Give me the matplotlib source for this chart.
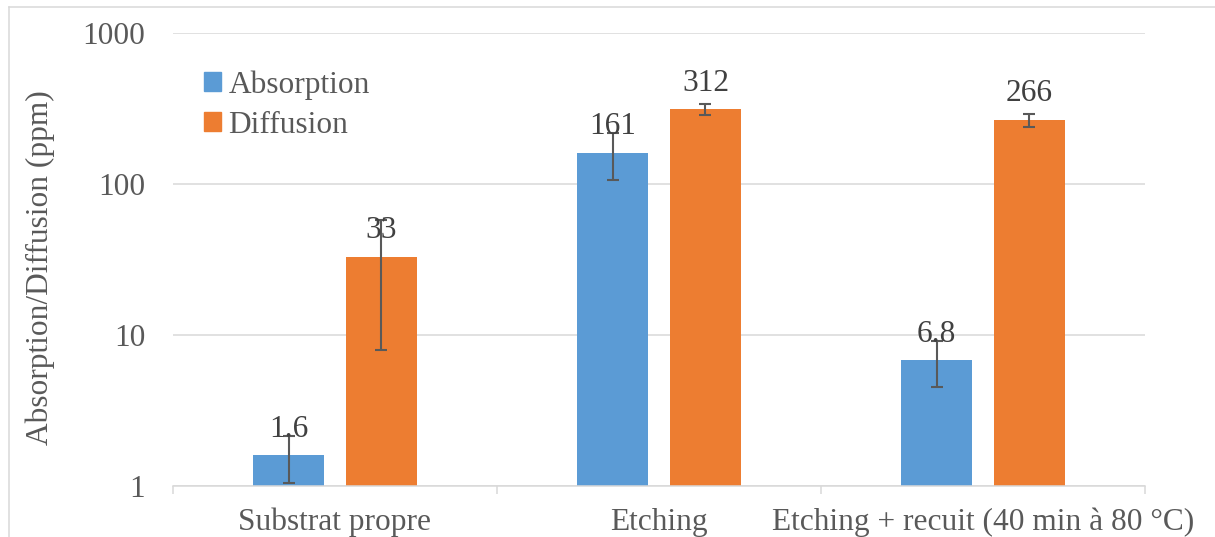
import matplotlib
matplotlib.use("Agg")
import matplotlib.pyplot as plt
from matplotlib.lines import Line2D
from matplotlib.patches import Patch
import numpy as np

categories = ["Substrat propre", "Etching", "Etching + recuit (40 min à 80 °C)"]
absorption = [1.6, 161, 6.8]
diffusion = [33, 312, 266]
absorption_err = [0.55, 55, 2.3]
diffusion_err = [25, 25, 26]
absorption_labels = ["1.6", "161", "6.8"]
diffusion_labels = ["33", "312", "266"]
yticks = [1, 10, 100, 1000]

W, H = 1215, 537
DPI = 100
plt.rcParams['font.family'] = ['Liberation Serif', 'DejaVu Serif']
FS = 22.6
TICK_C = "#595959"
LABEL_C = "#404040"
GRID_C = "#d9d9d9"
BLUE = "#5B9BD5"
ORANGE = "#ED7D31"
ERR_C = "#595959"

fig = plt.figure(figsize=(W / DPI, H / DPI), dpi=DPI)
ax = fig.add_axes([173 / W, 1 - 486 / H, (1145 - 173) / W, (486 - 33) / H])

x = np.arange(len(categories))
bw = 0.222
off = 0.1435

ax.set_yscale('log')
ax.set_ylim(1, 1000)
ax.set_xlim(-0.5, len(categories) - 0.5)

ax.bar(x - off, absorption, bw, color=BLUE, zorder=2, label="Absorption")
ax.bar(x + off, diffusion, bw, color=ORANGE, zorder=2, label="Diffusion")
ek = dict(ecolor=ERR_C, elinewidth=1.5, capsize=4.5, capthick=1.5, fmt='none', zorder=3)
ax.errorbar(x - off, absorption, yerr=absorption_err, **ek)
ax.errorbar(x + off, diffusion, yerr=diffusion_err, **ek)

for xi, v, t in zip(x - off, absorption, absorption_labels):
    ax.annotate(t, (xi, v), xytext=(0, 13.3), textcoords='offset points',
                ha='center', va='baseline', fontsize=FS, color=LABEL_C, zorder=4)
for xi, v, t in zip(x + off, diffusion, diffusion_labels):
    ax.annotate(t, (xi, v), xytext=(0, 13.3), textcoords='offset points',
                ha='center', va='baseline', fontsize=FS, color=LABEL_C, zorder=4)

# y axis
ax.set_yticks(yticks)
ax.set_yticklabels([str(t) for t in yticks])
ax.yaxis.set_minor_locator(matplotlib.ticker.NullLocator())
ax.tick_params(axis='y', length=0, pad=20, labelsize=FS, labelcolor=TICK_C)
ax.grid(axis='y', color=GRID_C, linewidth=1.1, zorder=0)
ax.set_axisbelow(True)

# x axis: category boundaries ticks, labels centered
ax.set_xticks(np.arange(-0.5, len(categories), 1.0))
ax.set_xticklabels([])
ax.set_xticks(x, minor=True)
ax.set_xticklabels(categories, minor=True)
ax.tick_params(axis='x', which='major', length=5.8, width=1.1, color=GRID_C, direction='out')
ax.tick_params(axis='x', which='minor', length=0, pad=15.5, labelsize=FS, labelcolor=TICK_C)

for s in ['top', 'right', 'left']:
    ax.spines[s].set_visible(False)
ax.spines['bottom'].set_color(GRID_C)
ax.spines['bottom'].set_linewidth(1.1)

fig.text(40 / W, 1 - 268 / H, "Absorption/Diffusion (ppm)", rotation=90,
         ha='center', va='center', fontsize=FS, color=TICK_C)

handles = [Patch(color=BLUE), Patch(color=ORANGE)]
leg = fig.legend(handles, ["Absorption", "Diffusion"], loc='upper left',
                 bbox_to_anchor=(204 / W, 1 - 70 / H), frameon=False,
                 fontsize=FS, handlelength=0.55, handleheight=0.55,
                 handletextpad=0.23, labelspacing=0.36, borderpad=0, borderaxespad=0)
for t in leg.get_texts():
    t.set_color(TICK_C)

# outer chart frame (partially visible)
fig.add_artist(Line2D([8.5 / W, 8.5 / W], [0, 1 - 7 / H], transform=fig.transFigure,
                      color=GRID_C, linewidth=1.1))
fig.add_artist(Line2D([8.5 / W, 1], [1 - 7 / H, 1 - 7 / H], transform=fig.transFigure,
                      color=GRID_C, linewidth=1.1))

fig.savefig("out.png", dpi=DPI)
